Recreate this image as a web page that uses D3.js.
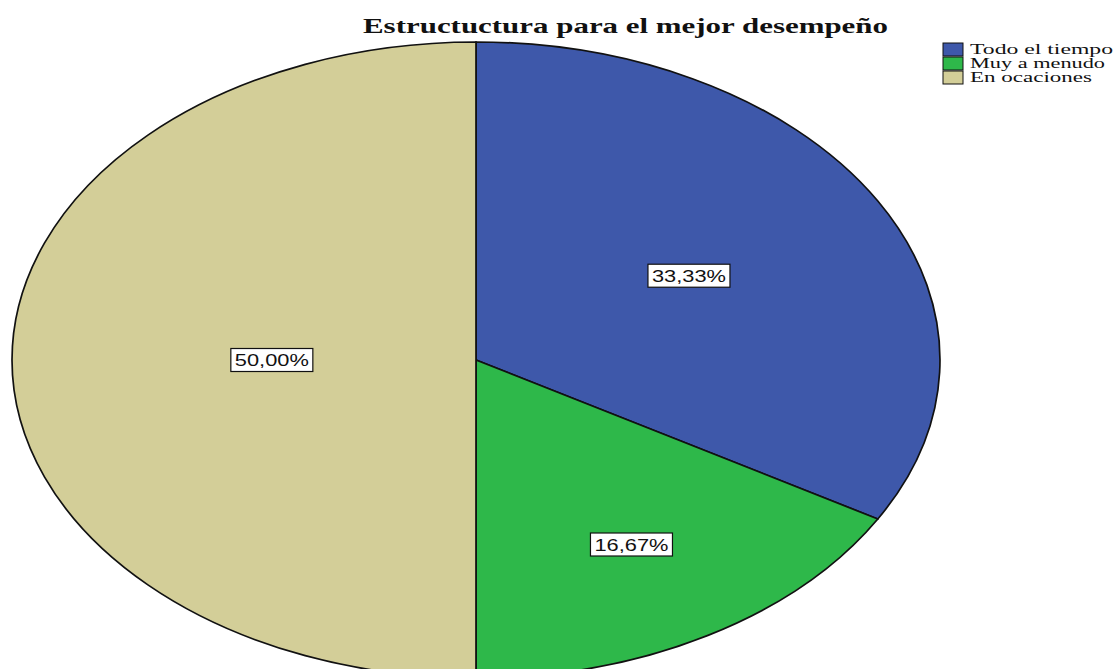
<!DOCTYPE html>
<html>
<head>
<meta charset="utf-8">
<script src="https://cdn.jsdelivr.net/npm/d3@7"></script>
<style>
  body { margin: 0; background: #fff; }
  svg { display: block; }
</style>
</head>
<body>
<div id="chart"></div>
<script>
// data
const categories = ['Todo el tiempo', 'Muy a menudo', 'En ocaciones']
const percents = [33.33, 16.67, 50.0]
const labels = ['33,33%', '16,67%', '50,00%']

// styling / layout
const colors = ['#3e58aa', '#2eb84a', '#d3ce98']
const labelRadius = [0.53, 0.67, 0.44]
const legendWidths = [143, 135, 122]

const width = 1115
const height = 669
const cx = 476
const cy = 360
const rx = 464
const ry = 318

const svg = d3
  .select('#chart')
  .append('svg')
  .attr('width', width)
  .attr('height', height)

const rows = categories.map((c, i) => ({ cat: c, value: percents[i], label: labels[i], i: i }))

const pie = d3.pie()
  .value(d => d.value)
  .sort(null)

const arcs = pie(rows)

// draw pie on unit circle, then stretch into the ellipse
const arc = d3.arc().innerRadius(0).outerRadius(1)

const g = svg.append('g')
  .attr('transform', 'translate(' + cx + ',' + cy + ') scale(' + rx + ',' + ry + ')')

g.selectAll('.slice')
  .data(arcs)
  .enter()
  .append('path')
  .attr('class', 'slice')
  .attr('d', arc)
  .attr('fill', d => colors[d.data.i])
  .attr('stroke', '#111')
  .attr('stroke-width', 1.7)
  .attr('vector-effect', 'non-scaling-stroke')

// value labels
const labelG = svg.selectAll('.value-label')
  .data(arcs)
  .enter()
  .append('g')
  .attr('class', 'value-label')
  .attr('transform', d => {
    const a = (d.startAngle + d.endAngle) / 2
    const f = labelRadius[d.data.i]
    const x = cx + Math.sin(a) * f * rx
    const y = cy - Math.cos(a) * f * ry
    return 'translate(' + x + ',' + y + ')'
  })

labelG.append('rect')
  .attr('x', -41)
  .attr('y', -11.5)
  .attr('width', 82)
  .attr('height', 23)
  .attr('fill', '#fff')
  .attr('stroke', '#111')
  .attr('stroke-width', 1.2)

labelG.append('text')
  .text(d => d.data.label)
  .attr('text-anchor', 'middle')
  .attr('y', 6)
  .attr('font-family', 'Liberation Sans, Arial, sans-serif')
  .attr('font-size', 17)
  .attr('textLength', 74)
  .attr('lengthAdjust', 'spacingAndGlyphs')
  .attr('fill', '#111')

// title
svg.append('text')
  .text('Estructuctura para el mejor desempeño')
  .attr('x', 363)
  .attr('y', 33)
  .attr('font-family', 'Liberation Serif, Times New Roman, serif')
  .attr('font-weight', 'bold')
  .attr('font-size', 22)
  .attr('textLength', 525)
  .attr('lengthAdjust', 'spacingAndGlyphs')
  .attr('fill', '#111')

// legend
const legend = svg.selectAll('.legend-entry')
  .data(rows)
  .enter()
  .append('g')
  .attr('class', 'legend-entry')
  .attr('transform', d => 'translate(943,' + (43 + d.i * 14) + ')')

legend.append('rect')
  .attr('width', 20)
  .attr('height', 13)
  .attr('fill', d => colors[d.i])
  .attr('stroke', '#111')
  .attr('stroke-width', 1)

legend.append('text')
  .text(d => d.cat)
  .attr('x', 27)
  .attr('y', 11)
  .attr('font-family', 'Liberation Serif, Times New Roman, serif')
  .attr('font-size', 15)
  .attr('textLength', d => legendWidths[d.i])
  .attr('lengthAdjust', 'spacingAndGlyphs')
  .attr('fill', '#111')
</script>
</body>
</html>
